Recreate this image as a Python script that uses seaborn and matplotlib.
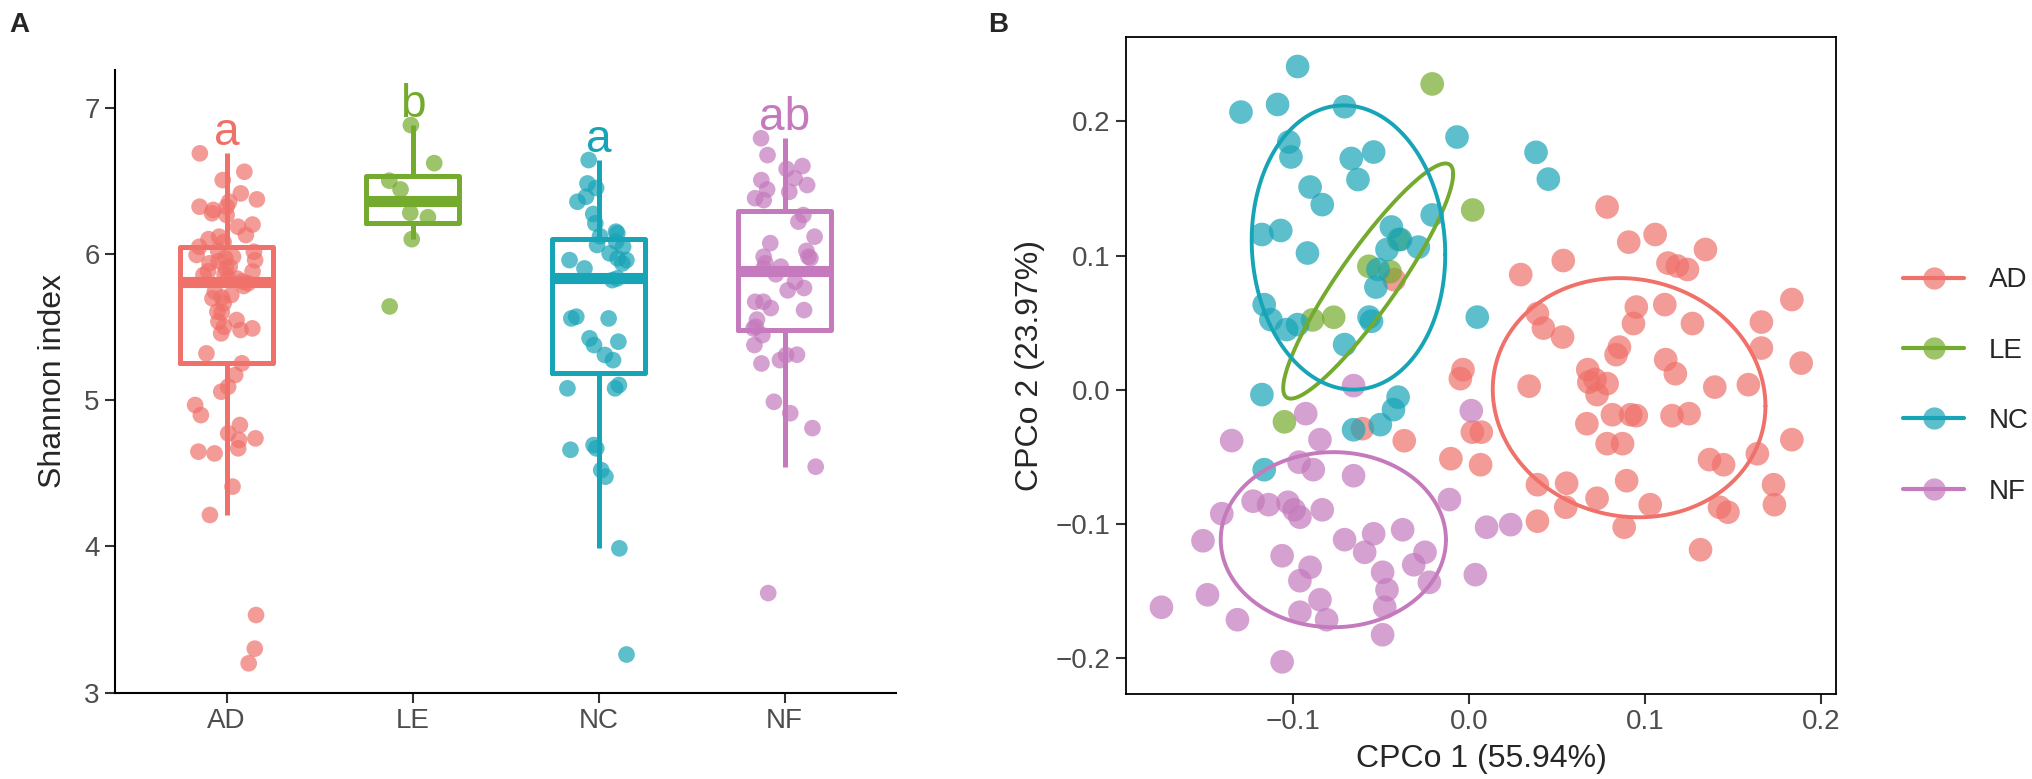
import numpy as np
import pandas as pd
import matplotlib
matplotlib.use("Agg")
import matplotlib.pyplot as plt
import seaborn as sns
from matplotlib.lines import Line2D
from matplotlib.colors import to_rgba

# ---------------- data ----------------
groups = ["AD", "LE", "NC", "NF"]
colors = ["#EF716A", "#74AA2D", "#18A4B7", "#C47ABC"]
letters = ["a", "b", "a", "ab"]

# panel A: Shannon index per sample
shannon_AD = [6.687, 6.561, 6.504, 6.413, 6.372, 6.356, 6.322, 6.322, 6.277, 6.265,
              6.185, 6.128, 6.117, 6.048, 6.30, 6.20, 6.10, 6.08,
              6.014, 5.992, 5.98, 5.957, 5.935, 5.912, 5.878, 5.855, 5.832, 5.81,
              5.83, 5.86, 5.88, 5.90, 5.95, 5.97, 6.02,
              5.798, 5.78, 5.741, 5.718, 5.695, 5.661, 5.604, 5.547, 5.536, 5.501,
              5.479, 5.456, 5.49, 5.319, 5.251, 5.60, 5.70,
              5.171, 5.091, 5.057, 4.966, 4.897, 4.829, 4.772, 4.727, 4.738, 4.67,
              4.647, 4.635, 4.408, 4.214, 3.53, 3.30, 3.20]
shannon_LE = [6.88, 6.62, 6.50, 6.44, 6.28, 6.25, 6.10, 5.64]
shannon_NC = [6.641, 6.481, 6.39, 6.356, 6.272, 6.208, 6.151, 6.14, 6.12, 6.45,
              6.083, 6.048, 6.003, 5.969, 5.957, 5.957, 5.934, 5.90, 6.06,
              5.832, 5.82, 5.57, 5.558, 5.558, 5.422, 5.399, 5.376, 5.308, 5.273,
              5.103, 5.08, 5.08, 4.692, 4.67, 4.66, 4.521, 4.476, 3.986, 3.26]
shannon_NF = [6.79, 6.675, 6.517, 6.504, 6.44, 6.424, 6.367, 6.60, 6.47, 6.38, 6.58,
              6.265, 6.117, 6.073, 5.98, 5.98, 5.97, 5.935, 5.912, 6.22, 6.02, 5.90,
              5.81, 5.766, 5.75, 5.672, 5.672, 5.629, 5.615, 5.501, 5.49, 5.86, 5.55,
              5.444, 5.376, 5.308, 5.31, 5.273, 5.25, 4.988, 4.91, 4.808, 4.544, 3.68]

# panel B: PCoA coordinates
pc1_AD = [0.0784, 0.0907, 0.1057, 0.1343, 0.0535, 0.113, 0.1183, 0.1241, 0.0293, 0.0388,
          0.0422, 0.0531, 0.095, 0.0934, 0.1112, 0.1269, 0.1661, 0.1834, 0.1661, 0.1887,
          0.0854, 0.0835, 0.1117, 0.1172, 0.0674, 0.0715, 0.068, 0.0784, 0.0341, 0.0727,
          0.1396, 0.1587, 0.0669, 0.0814, 0.0918, 0.095, 0.1153, 0.125, 0.0784, 0.0872,
          0.1834, 0.1366, 0.1446, 0.1638, 0.0388, 0.0554, 0.0895, 0.0727, 0.173, 0.1735,
          0.0549, 0.0388, 0.1029, 0.1423, 0.1471, 0.0881, 0.1315, -0.0035, -0.005, 0.0018,
          0.0069, -0.0369, -0.0104, 0.0065, -0.0426, -0.0607]
pc2_AD = [0.1362, 0.110, 0.1157, 0.1045, 0.0963, 0.0944, 0.0922, 0.0896, 0.0858, 0.0567,
          0.0459, 0.0392, 0.0616, 0.0493, 0.0634, 0.0493, 0.0504, 0.0672, 0.031, 0.0198,
          0.0317, 0.0261, 0.0224, 0.0119, 0.0149, 0.0075, 0.0056, 0.0045, 0.0026, -0.0037,
          0.0019, 0.0037, -0.0254, -0.0187, -0.0187, -0.0194, -0.0194, -0.0179, -0.0403, -0.0403,
          -0.0373, -0.0522, -0.056, -0.0478, -0.0709, -0.0698, -0.0679, -0.081, -0.0709, -0.0858,
          -0.0877, -0.0981, -0.0858, -0.0877, -0.0914, -0.1026, -0.1194, 0.0149, 0.0082, -0.0317,
          -0.0317, -0.0381, -0.0515, -0.056, 0.082, -0.0291]
pc1_LE = [-0.021, 0.002, -0.057, -0.045, -0.040, -0.089, -0.077, -0.105]
pc2_LE = [0.228, 0.134, 0.092, 0.088, 0.112, 0.052, 0.054, -0.024]
pc1_NC = [-0.0975, -0.1297, -0.1089, -0.0708, -0.1025, -0.1013, -0.067, -0.0543, -0.0632, -0.0904,
          -0.0835, -0.1178, -0.1071, -0.0919, -0.0442, -0.021, -0.0467, -0.0289, -0.039, -0.0518,
          -0.053, -0.1165, -0.1127, -0.1038, -0.0975, -0.0569, -0.0555, -0.0708, -0.1178, -0.0404,
          -0.043, -0.0505, -0.0657, -0.1165, -0.0069, 0.038, 0.045, 0.0046]
pc2_NC = [0.241, 0.207, 0.2127, 0.211, 0.1847, 0.1735, 0.1724, 0.1772, 0.1567, 0.1511,
          0.138, 0.1157, 0.1187, 0.1019, 0.1213, 0.1303, 0.1045, 0.1063, 0.112, 0.0896,
          0.0765, 0.0634, 0.0522, 0.0448, 0.0485, 0.0541, 0.0510, 0.0336, -0.0037, -0.0056,
          -0.0149, -0.0261, -0.0299, -0.0597, 0.1884, 0.177, 0.157, 0.0541]
pc1_NF = [-0.0657, -0.0929, -0.135, -0.0848, -0.0967, -0.0886, -0.0657, -0.1228, -0.114, -0.103,
          -0.0995, -0.0962, -0.0835, -0.1406, -0.0112, -0.1513, -0.0708, -0.0543, -0.0378, -0.1063,
          -0.0904, -0.0594, -0.0251, -0.0315, -0.0492, -0.0962, -0.0467, -0.0226, -0.1487, -0.0848,
          -0.0480, -0.0962, -0.081, -0.1317, -0.1749, -0.0492, -0.1063, 0.0012, 0.0099, 0.0236,
          0.0035]
pc2_NF = [0.003, -0.0179, -0.038, -0.0373, -0.0541, -0.0597, -0.0642, -0.0832, -0.0858, -0.084,
          -0.0896, -0.0951, -0.0896, -0.0925, -0.082, -0.1127, -0.1119, -0.1075, -0.1045, -0.1239,
          -0.1325, -0.1213, -0.1213, -0.1306, -0.1362, -0.1425, -0.1493, -0.1437, -0.153, -0.1567,
          -0.1623, -0.166, -0.1716, -0.1716, -0.1623, -0.1828, -0.2030, -0.0157, -0.1026, -0.1007,
          -0.138]

# group ellipses: centre, half x-extent, half y-extent, correlation
ell_cx = [0.0909, -0.0574, -0.0686, -0.0772]
ell_cy = [-0.006, 0.081, 0.106, -0.1119]
ell_rx = [0.0775, 0.0483, 0.055, 0.064]
ell_ry = [0.0892, 0.0877, 0.106, 0.0653]
ell_rho = [-0.07, 0.91, -0.05, 0.0]

# ---------------- frames ----------------
shannon = [shannon_AD, shannon_LE, shannon_NC, shannon_NF]
dfa = pd.concat([pd.DataFrame({"group": g, "shannon": v}) for g, v in zip(groups, shannon)],
                ignore_index=True)
pcs = [(pc1_AD, pc2_AD), (pc1_LE, pc2_LE), (pc1_NC, pc2_NC), (pc1_NF, pc2_NF)]
dfb = pd.concat([pd.DataFrame({"group": g, "pc1": a, "pc2": b}) for g, (a, b) in zip(groups, pcs)],
                ignore_index=True)
pal = dict(zip(groups, colors))

sns.set_style("ticks")
plt.rcParams["font.family"] = ["Liberation Sans", "DejaVu Sans"]

fig = plt.figure(figsize=(20.33, 7.79), dpi=100)

# ---------------- panel A ----------------
ax1 = fig.add_axes([0.0566, 0.111, 0.3842, 0.799])
sns.boxplot(data=dfa, x="group", y="shannon", hue="group", order=groups, hue_order=groups,
            palette=pal, fill=False, width=0.5, linewidth=3.6, showfliers=False,
            showcaps=False, medianprops=dict(linewidth=8), legend=False, ax=ax1)
np.random.seed(7)
sns.stripplot(data=dfa, x="group", y="shannon", hue="group", order=groups, hue_order=groups,
              palette=pal, jitter=0.17, size=12, alpha=0.7, linewidth=0, legend=False,
              zorder=3, ax=ax1)
for i, g in enumerate(groups):
    ax1.text(i, max(shannon[i]) + 0.055, letters[i], color=colors[i], fontsize=33,
             ha="center", va="baseline")

ax1.set_xlim(-0.6, 3.6)
ax1.set_ylim(3.0, 7.256)
ax1.set_yticks([3, 4, 5, 6, 7])
ax1.set_xlabel("")
ax1.set_ylabel("Shannon index", fontsize=23, labelpad=12)
for s in ["top", "right"]:
    ax1.spines[s].set_visible(False)
for s in ["left", "bottom"]:
    ax1.spines[s].set_linewidth(1.5)
    ax1.spines[s].set_color("black")
ax1.tick_params(length=7, width=1.5, labelsize=20, labelcolor="#4D4D4D", pad=4, color="#333333")

# ---------------- panel B ----------------
ax2 = fig.add_axes([0.5539, 0.1091, 0.3492, 0.8434])
sns.scatterplot(data=dfb, x="pc1", y="pc2", hue="group", hue_order=groups, palette=pal,
                s=290, alpha=0.7, linewidth=0, legend=False, ax=ax2)
t = np.linspace(0, 2 * np.pi, 300)
for i, g in enumerate(groups):
    ex = ell_cx[i] + ell_rx[i] * np.cos(t)
    ey = ell_cy[i] + ell_ry[i] * (ell_rho[i] * np.cos(t) + np.sqrt(1 - ell_rho[i] ** 2) * np.sin(t))
    ax2.plot(ex, ey, color=colors[i], lw=2.8, zorder=4)

ax2.set_xlim(-0.195, 0.2085)
ax2.set_ylim(-0.227, 0.263)
ax2.set_xticks([-0.1, 0.0, 0.1, 0.2])
ax2.set_yticks([-0.2, -0.1, 0.0, 0.1, 0.2])
ax2.set_xlabel("CPCo 1 (55.94%)", fontsize=23, labelpad=6)
ax2.set_ylabel("CPCo 2 (23.97%)", fontsize=23, labelpad=8)
for s in ax2.spines.values():
    s.set_linewidth(1.3)
    s.set_color("black")
ax2.tick_params(length=7, width=1.5, labelsize=20, labelcolor="#4D4D4D", pad=4, color="#333333")

handles = [Line2D([0], [0], color=c, lw=3, marker="o", markersize=16,
                  markerfacecolor=to_rgba(c, 0.7), markeredgewidth=0) for c in colors]
fig.legend(handles, groups, loc="center left", bbox_to_anchor=(1903 / 2033, 0.5045),
           frameon=False, fontsize=20, handlelength=2.2, handletextpad=0.9,
           labelspacing=1.6, borderpad=0, borderaxespad=0)

fig.text(9 / 2033, 1 - 25 / 779, "A", fontsize=20, fontweight="bold", va="center", ha="left")
fig.text(988 / 2033, 1 - 25 / 779, "B", fontsize=20, fontweight="bold", va="center", ha="left")

fig.savefig("out.png", dpi=100)
